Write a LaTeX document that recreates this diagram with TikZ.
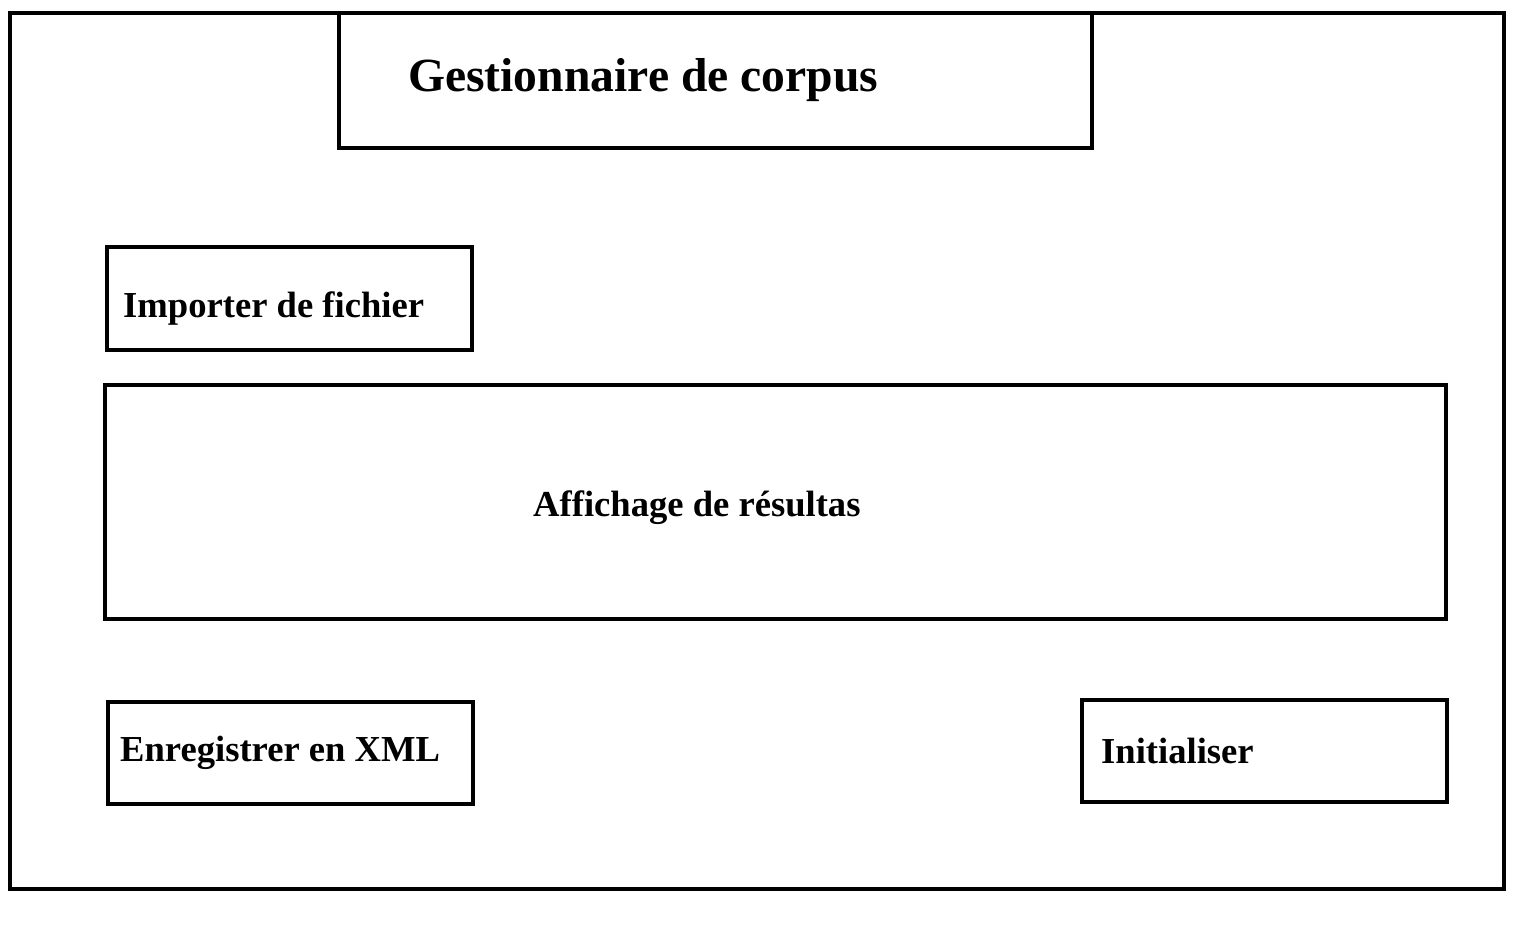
\documentclass[tikz,border=0pt]{standalone}
\usepackage{fontspec}
\setmainfont{Liberation Serif}
\begin{document}
\begin{tikzpicture}[x=1pt,y=-1pt,
  box/.style={draw=black,line width=4pt,rectangle,inner sep=0pt,fill=none},
  lbl/.style={anchor=base west,inner sep=0pt,font=\bfseries\fontsize{36.6}{42}\selectfont},
  ttl/.style={anchor=base west,inner sep=0pt,font=\bfseries\fontsize{47.6}{56}\selectfont}]
\useasboundingbox[fill=white] (0,0) rectangle (1530,928);
\node[box,minimum width=1494pt,minimum height=876pt] (outer) at (757,451) {};
\node[box,minimum width=753pt,minimum height=135pt] (title) at (715.5,80.5) {};
\node[box,minimum width=365pt,minimum height=103pt] (import) at (289.5,298.5) {};
\node[box,minimum width=1341pt,minimum height=234pt] (display) at (775.5,502) {};
\node[box,minimum width=365pt,minimum height=102pt] (save) at (290.5,753) {};
\node[box,minimum width=365pt,minimum height=102pt] (init) at (1264.5,751) {};
\node[ttl] (titletext) at (408,92) {Gestionnaire de corpus};
\node[lbl] (importtext) at (123,317) {Importer de fichier};
\node[lbl] (displaytext) at (533,516) {Affichage de résultas};
\node[lbl] (savetext) at (120,761) {Enregistrer en XML};
\node[lbl] (inittext) at (1101,763) {Initialiser};
\end{tikzpicture}
\end{document}
